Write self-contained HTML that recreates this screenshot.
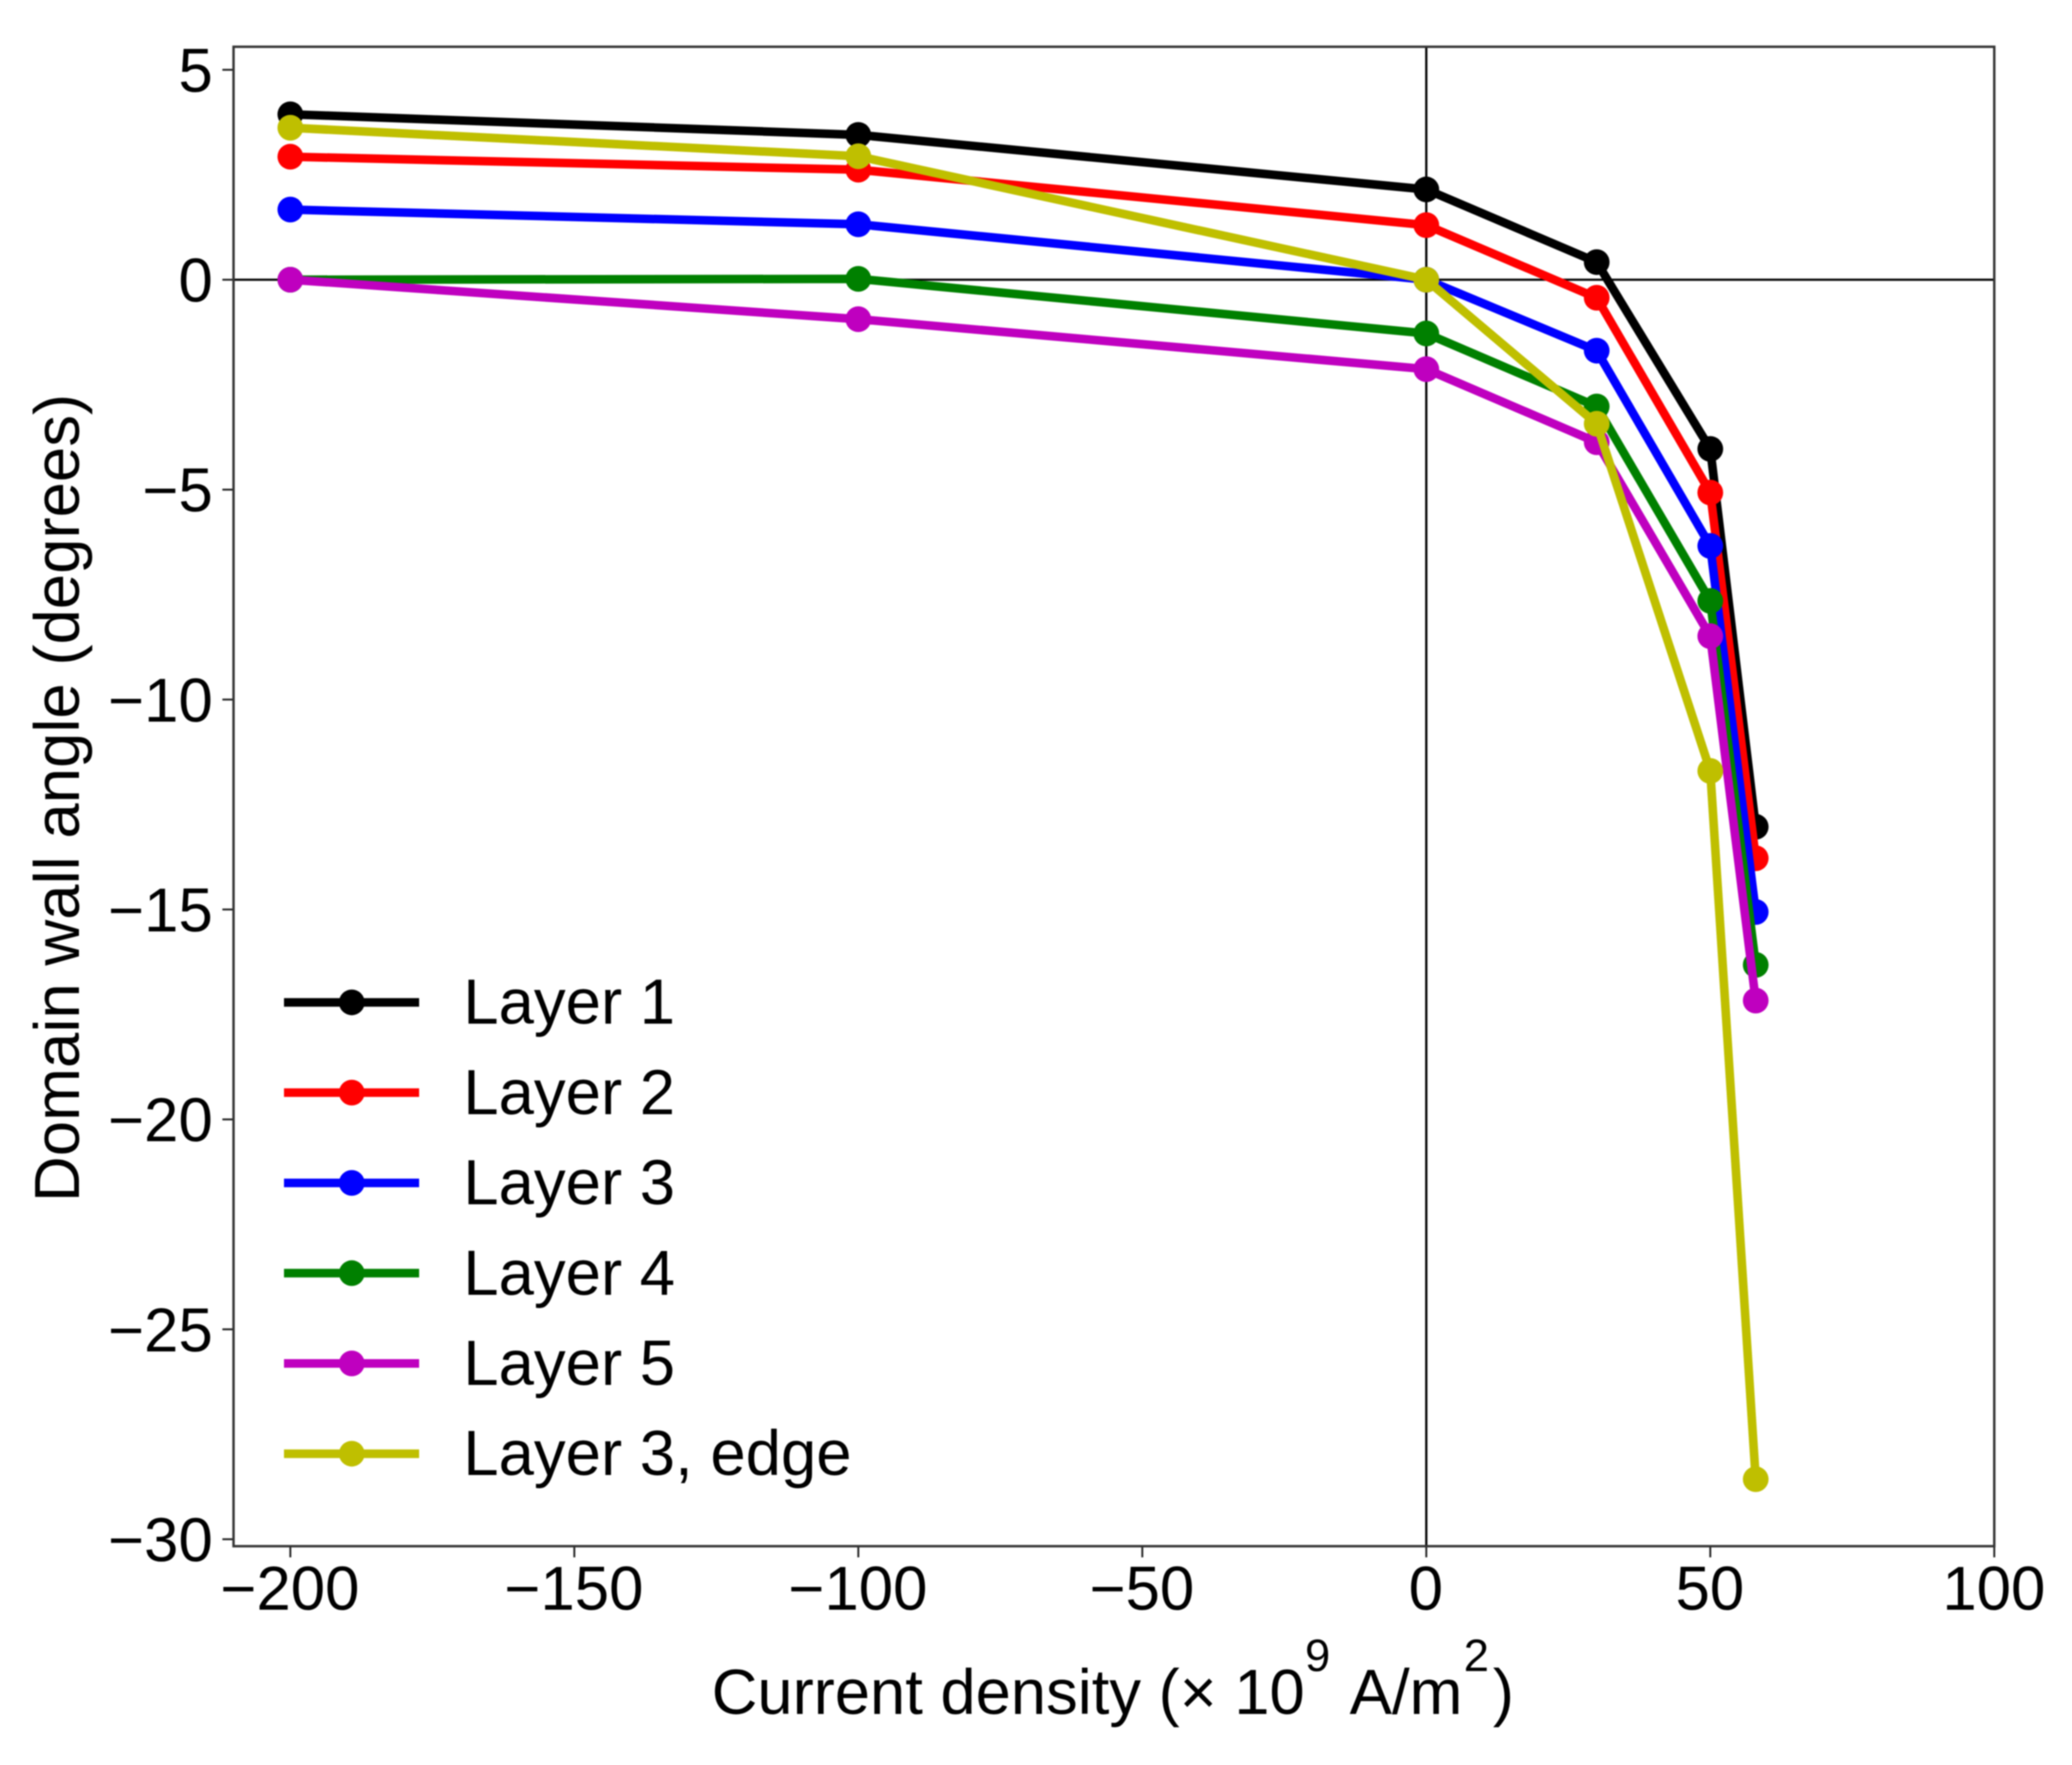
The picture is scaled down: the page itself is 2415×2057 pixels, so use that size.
<!DOCTYPE html>
<html lang="en">
<head>
<meta charset="utf-8">
<title>Domain wall angle vs current density</title>
<style>
html,body{margin:0;padding:0;background:#fff;width:2415px;height:2057px;overflow:hidden}
svg{display:block;filter:blur(0.7px)}
text{font-family:"Liberation Sans",Arial,sans-serif;fill:#000}
</style>
</head>
<body>
<svg id="chart" xmlns="http://www.w3.org/2000/svg" width="2415" height="2057" viewBox="0 0 2415 2057">
  <rect x="0" y="0" width="2415" height="2057" fill="#fff"/>
  <text x="829.5" y="1997.5" font-size="73.8">Current density (× 10<tspan x="1521" y="1947.5" font-size="53">9</tspan><tspan x="1573" y="1997.5" font-size="74">A/m</tspan><tspan x="1706" y="1947.5" font-size="53">2</tspan><tspan x="1740" y="1997.5" font-size="74">)</tspan></text>
  <text transform="translate(92,930) rotate(-90)" text-anchor="middle" font-size="74">Domain wall angle (degrees)</text>
</svg>
<script>
var currentDensity = [-200, -100, 0, 30, 50, 58];
var layer1 = [3.94, 3.45, 2.15, 0.42, -4.03, -13.03];
var layer2 = [2.93, 2.62, 1.3, -0.43, -5.07, -13.78];
var layer3 = [1.67, 1.32, 0, -1.69, -6.34, -15.06];
var layer4 = [0, 0.02, -1.28, -3.02, -7.65, -16.32];
var layer5 = [0, -0.94, -2.13, -3.87, -8.49, -17.17];
var layer3Edge = [3.62, 2.94, 0, -3.43, -11.7, -28.57];
var seriesValues = [layer1, layer2, layer3, layer4, layer5, layer3Edge];
var seriesLabels = ['Layer 1', 'Layer 2', 'Layer 3', 'Layer 4', 'Layer 5', 'Layer 3, edge'];
var seriesColors = ['#000000', '#ff0000', '#0000ff', '#008000', '#bf00bf', '#bfbf00'];
var xTicks = [-200, -150, -100, -50, 0, 50, 100];
var yTicks = [5, 0, -5, -10, -15, -20, -25, -30];

var NS = 'http://www.w3.org/2000/svg';
var svg = document.getElementById('chart');
function xScale(v) { return 1662.4 + v * 6.62; }
function yScale(v) { return 326 - v * 48.93; }
function fmt(v) { return String(v).replace('-', '\u2212'); }
function make(tag, attrs, parent) {
  var el = document.createElementNS(NS, tag);
  for (var k in attrs) { el.setAttribute(k, attrs[k]); }
  (parent || svg).appendChild(el);
  return el;
}

var left = xScale(-210), right = xScale(100), top_ = 54.5, bottom = 1802;

var zeroH = make('line', {x1: left, x2: right, y1: yScale(0), y2: yScale(0), stroke: '#000', 'stroke-width': 2.6});


var zeroV = make('line', {x1: xScale(0), x2: xScale(0), y1: top_, y2: bottom, stroke: '#000', 'stroke-width': 2.6});



xTicks.forEach(function (t) {
  var tick = make('line', {x1: xScale(t), x2: xScale(t), y1: bottom, y2: bottom + 13, stroke: '#222', 'stroke-width': 2.2});
  
  
  var label = make('text', {x: xScale(t) - 0.5, y: 1876, 'text-anchor': 'middle', 'font-size': 72});
  label.textContent = fmt(t);
  
  
});
yTicks.forEach(function (t) {
  var tick = make('line', {x1: left - 13, x2: left, y1: yScale(t), y2: yScale(t), stroke: '#222', 'stroke-width': 2.2});
  
  
  var label = make('text', {x: 248, y: yScale(t) + 25.5, 'text-anchor': 'end', 'font-size': 72});
  label.textContent = fmt(t);
  
  
});

seriesValues.forEach(function (vals, i) {
  var group = make('g', {});
  
  
  var pts = vals.map(function (v, j) { return xScale(currentDensity[j]) + ',' + yScale(v); }).join(' ');
  var line = make('polyline', {points: pts, fill: 'none', stroke: seriesColors[i], 'stroke-width': 10, 'stroke-linejoin': 'round'}, group);
  
  
  vals.forEach(function (v, j) {
    var dot = make('circle', {cx: xScale(currentDensity[j]), cy: yScale(v), r: 15, fill: seriesColors[i]}, group);
    
    
  });
});

var frame = make('rect', {x: left, y: top_, width: right - left, height: bottom - top_, fill: 'none', stroke: '#333', 'stroke-width': 2.8});



seriesLabels.forEach(function (name, i) {
  var rowY = 1168.2 + i * 105.2;
  var entry = make('g', {});
  
  
  var swatch = make('line', {x1: 331, x2: 488.5, y1: rowY, y2: rowY, stroke: seriesColors[i], 'stroke-width': 10}, entry);
  
  
  var mark = make('circle', {cx: 410, cy: rowY, r: 15, fill: seriesColors[i]}, entry);
  
  
  var label = make('text', {x: 540, y: rowY + 25, 'font-size': 74}, entry);
  label.textContent = name;
  
  
});
</script>
</body>
</html>
